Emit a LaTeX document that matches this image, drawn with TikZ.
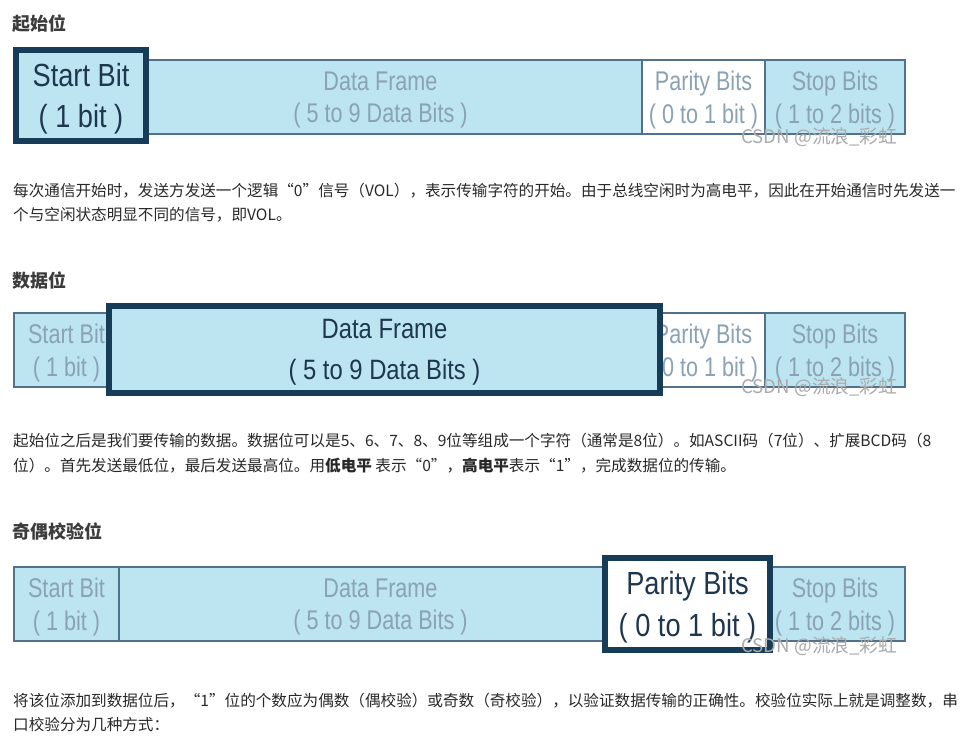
\documentclass[tikz,border=0pt]{standalone}
\usepackage{fontspec}
\setmainfont{Liberation Sans}
\newfontfamily\cjk{Noto Sans CJK SC}
\newfontfamily\barfont[FakeStretch=0.8]{Liberation Sans}
\newfontfamily\hlfont[FakeStretch=0.85]{Liberation Sans}
\usetikzlibrary{positioning}
\definecolor{barblue}{RGB}{188,228,241}
\definecolor{barline}{RGB}{82,114,140}
\definecolor{hlline}{RGB}{22,60,88}
\definecolor{hltext}{RGB}{30,55,78}
\definecolor{fadetext}{RGB}{138,162,180}
\definecolor{paratext}{RGB}{40,40,40}
\definecolor{headgray}{RGB}{60,60,60}
\definecolor{wmgray}{RGB}{170,170,170}
\tikzset{
  field/.style={draw=barline, line width=2pt, fill=barblue, outer sep=0pt, inner sep=0pt,
    minimum height=74pt, text depth=-3pt, text=fadetext, align=center,
    font=\barfont\fontsize{27}{32.5}\selectfont},
  hlbox/.style={draw=hlline, line width=6pt, fill=barblue, outer sep=0pt, inner sep=0pt,
    text depth=-3pt, text=hltext, align=center, font=\hlfont\fontsize{32}{41.5}\selectfont},
  heading/.style={anchor=west, inner sep=0pt, text=headgray, font=\cjk\bfseries\fontsize{18}{18}\selectfont},
  para/.style={anchor=west, inner sep=0pt, text=paratext, font=\cjk\fontsize{15.6}{24}\selectfont},
  wmark/.style={anchor=west, inner sep=0pt, text=wmgray, font=\cjk\fontsize{18.7}{19}\selectfont}
}
\begin{document}
\begin{tikzpicture}[x=1pt, y=-1pt]
  \useasboundingbox (0,0) rectangle (970,748);

  % start bit
  \node[heading] (head1) at (12,24) {起始位};
  \node[field, minimum width=105pt, anchor=west] (start1) at (14,97) {Start Bit\\( 1 bit )};
  \node[field, minimum width=523pt, right=0pt of start1] (data1) {Data Frame\\( 5 to 9 Data Bits )};
  \node[field, minimum width=123pt, fill=white, right=0pt of data1] (par1) {Parity Bits\\( 0 to 1 bit )};
  \node[field, minimum width=140pt, right=0pt of par1] (stop1) {Stop Bits\\( 1 to 2 bits )};
  \node[hlbox, minimum width=130pt, minimum height=91pt] (hl1) at (81,95.5) {Start Bit\\( 1 bit )};
  \node[wmark] (wm1) at (741,137) {CSDN @流浪\_彩虹};
  \node[para] (p1a) at (13,191) {每次通信开始时，发送方发送一个逻辑“0”信号（VOL），表示传输字符的开始。由于总线空闲时为高电平，因此在开始通信时先发送一};
  \node[para] (p1b) at (13,215) {个与空闲状态明显不同的信号，即VOL。};

  % data bits
  \node[heading] (head2) at (12,281) {数据位};
  \node[field, minimum width=105pt, anchor=west] (start2) at (14,350) {Start Bit\\( 1 bit )};
  \node[field, minimum width=523pt, right=0pt of start2] (data2) {Data Frame\\( 5 to 9 Data Bits )};
  \node[field, minimum width=123pt, fill=white, right=0pt of data2] (par2) {Parity Bits\\( 0 to 1 bit )};
  \node[field, minimum width=140pt, right=0pt of par2] (stop2) {Stop Bits\\( 1 to 2 bits )};
  \node[hlbox, minimum width=551pt, minimum height=87pt, font=\hlfont\fontsize{28}{40.5}\selectfont] (hl2) at (384.5,349.5) {Data Frame\\( 5 to 9 Data Bits )};
  \node[wmark] (wm2) at (741,387) {CSDN @流浪\_彩虹};
  \node[para] (p2a) at (13,441) {起始位之后是我们要传输的数据。数据位可以是5、6、7、8、9位等组成一个字符（通常是8位）。如ASCII码（7位）、扩展BCD码（8};
  \node[para] (p2b) at (13,466) {位）。首先发送最低位，最后发送最高位。用\textbf{低电平} 表示“0”，\textbf{高电平}表示“1”，完成数据位的传输。};

  % parity bits
  \node[heading] (head3) at (12,531) {奇偶校验位};
  \node[field, minimum width=105pt, anchor=west] (start3) at (14,604) {Start Bit\\( 1 bit )};
  \node[field, minimum width=523pt, right=0pt of start3] (data3) {Data Frame\\( 5 to 9 Data Bits )};
  \node[field, minimum width=123pt, fill=white, right=0pt of data3] (par3) {Parity Bits\\( 0 to 1 bit )};
  \node[field, minimum width=140pt, right=0pt of par3] (stop3) {Stop Bits\\( 1 to 2 bits )};
  \node[hlbox, minimum width=165pt, minimum height=92pt, fill=white] (hl3) at (687.5,604) {Parity Bits\\( 0 to 1 bit )};
  \node[wmark] (wm3) at (741,646) {CSDN @流浪\_彩虹};
  \node[para] (p3a) at (13,701) {将该位添加到数据位后，“1”位的个数应为偶数（偶校验）或奇数（奇校验），以验证数据传输的正确性。校验位实际上就是调整数，串};
  \node[para] (p3b) at (13,725) {口校验分为几种方式：};
\end{tikzpicture}
\end{document}
